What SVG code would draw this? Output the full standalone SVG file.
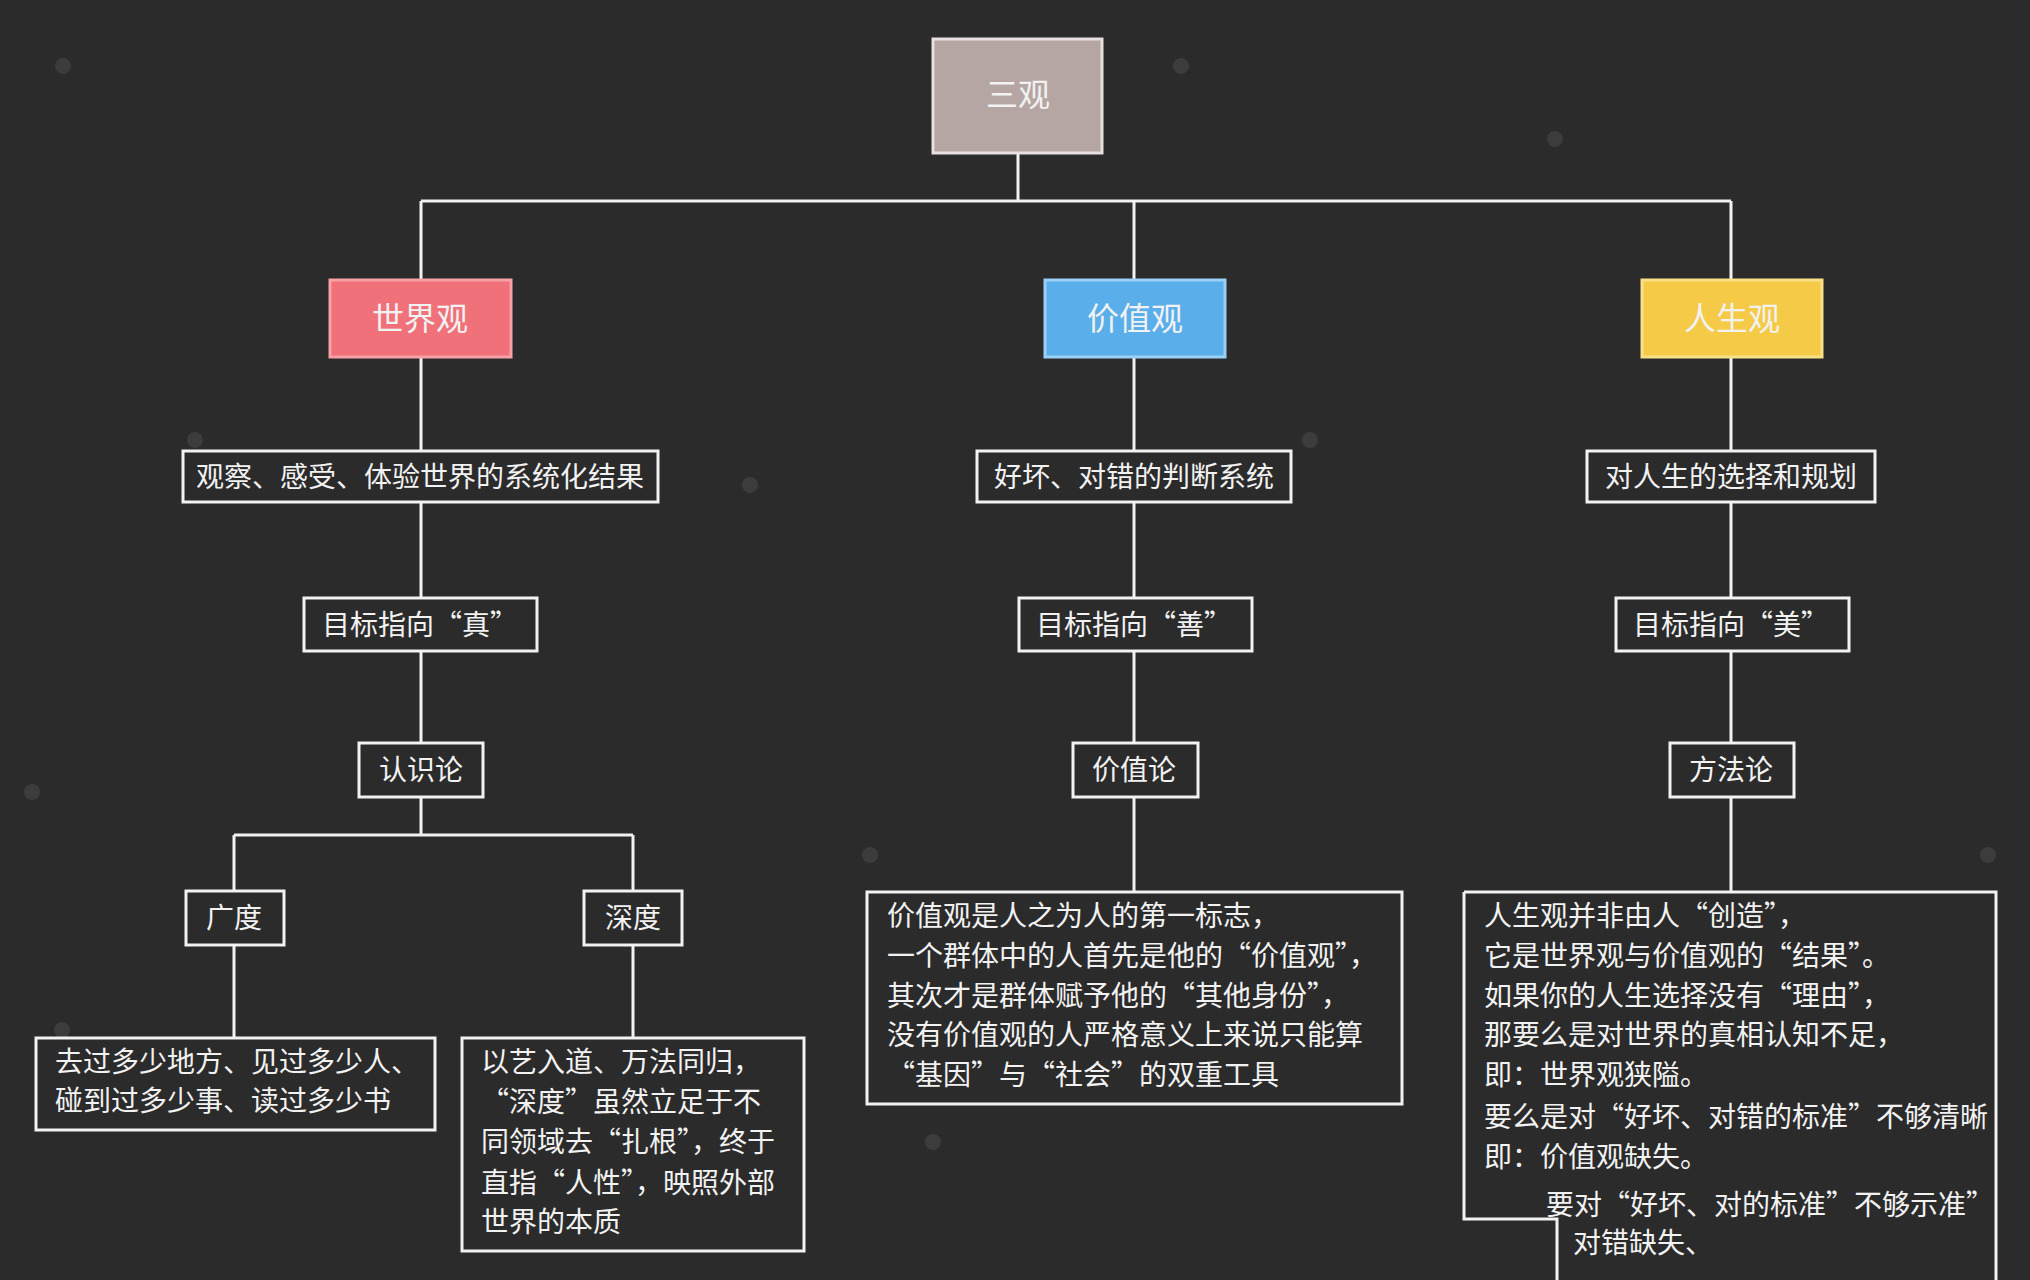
<svg xmlns="http://www.w3.org/2000/svg" width="2030" height="1280" viewBox="0 0 2030 1280">
<style>
.b{fill:none;stroke:#f2f2f2;stroke-width:3}
.c{fill:none;stroke:#f2f2f2;stroke-width:3}
text{font-family:"Noto Sans CJK SC","Noto Sans",sans-serif;font-size:28px;fill:#f2f2f2;dominant-baseline:central}
.m{text-anchor:middle}
.h{font-size:32px;text-anchor:middle}
</style>
<rect width="2030" height="1280" fill="#2b2b2b"/>
<g fill="#3c3c3c">
<circle cx="63" cy="66" r="8"/><circle cx="1181" cy="66" r="8"/><circle cx="1555" cy="139" r="8"/><circle cx="750" cy="485" r="8"/><circle cx="1310" cy="440" r="8"/><circle cx="32" cy="792" r="8"/><circle cx="870" cy="855" r="8"/><circle cx="1988" cy="855" r="8"/><circle cx="62" cy="1030" r="8"/><circle cx="933" cy="1142" r="8"/><circle cx="195" cy="440" r="8"/>
</g>
<g id="connectors" class="c">
<path d="M1018 153V201M421 201H1731M421 201V280M1134 201V280M1731 201V280"/>
<path d="M421 357V451M421 502V598M421 651V743M421 797V835M234 835H633M234 835V891M633 835V891M234 945V1038M633 945V1038"/>
<path d="M1134 357V451M1134 502V598M1134 651V743M1134 797V892"/>
<path d="M1731 357V451M1731 502V598M1731 651V743M1731 797V892"/>
</g>
<g id="root"><rect x="933" y="39" width="169" height="114" fill="#b5a6a3" stroke="#e8e0de" stroke-width="3"/><text x="1018" y="92" class="h">三观</text></g>
<g id="world"><rect x="330" y="280" width="181" height="77" fill="#f0717a" stroke="#f8a0a6" stroke-width="3"/><text x="420" y="316" class="h">世界观</text></g>
<g id="value"><rect x="1045" y="280" width="180" height="77" fill="#5aaeea" stroke="#9ad0f5" stroke-width="3"/><text x="1135" y="316" class="h">价值观</text></g>
<g id="life"><rect x="1642" y="280" width="180" height="77" fill="#f5ca47" stroke="#fbe08a" stroke-width="3"/><text x="1732" y="316" class="h">人生观</text></g>
<g id="w1"><rect class="b" x="183" y="451" width="475" height="51"/><text x="420" y="475" class="m">观察、感受、体验世界的系统化结果</text></g>
<g id="v1"><rect class="b" x="977" y="451" width="314" height="51"/><text x="1134" y="475" class="m">好坏、对错的判断系统</text></g>
<g id="l1"><rect class="b" x="1587" y="451" width="288" height="51"/><text x="1731" y="475" class="m">对人生的选择和规划</text></g>
<g id="w2"><rect class="b" x="304" y="598" width="233" height="53"/><text x="420" y="623" class="m">目标指向“真”</text></g>
<g id="v2"><rect class="b" x="1019" y="598" width="233" height="53"/><text x="1134" y="623" class="m">目标指向“善”</text></g>
<g id="l2"><rect class="b" x="1616" y="598" width="233" height="53"/><text x="1731" y="623" class="m">目标指向“美”</text></g>
<g id="w3"><rect class="b" x="359" y="743" width="124" height="54"/><text x="421" y="768" class="m">认识论</text></g>
<g id="v3"><rect class="b" x="1073" y="743" width="125" height="54"/><text x="1134" y="768" class="m">价值论</text></g>
<g id="l3"><rect class="b" x="1670" y="743" width="124" height="54"/><text x="1731" y="768" class="m">方法论</text></g>
<g id="breadth"><rect class="b" x="186" y="891" width="98" height="54"/><text x="234" y="916" class="m">广度</text></g>
<g id="depth"><rect class="b" x="584" y="891" width="98" height="54"/><text x="633" y="916" class="m">深度</text></g>
<g id="breadthText"><rect class="b" x="36" y="1038" width="399" height="92"/><text x="55" y="1060">去过多少地方、见过多少人、</text><text x="55" y="1099">碰到过多少事、读过多少书</text></g>
<g id="depthText"><rect class="b" x="462" y="1038" width="342" height="213"/><text x="481" y="1060">以艺入道、万法同归，</text><text x="481" y="1100">“深度”虽然立足于不</text><text x="481" y="1140">同领域去“扎根”，终于</text><text x="481" y="1181">直指“人性”，映照外部</text><text x="481" y="1220">世界的本质</text></g>
<g id="valueText"><rect class="b" x="867" y="892" width="535" height="212"/><text x="887" y="914">价值观是人之为人的第一标志，</text><text x="887" y="954">一个群体中的人首先是他的“价值观”，</text><text x="887" y="994">其次才是群体赋予他的“其他身份”，</text><text x="887" y="1033">没有价值观的人严格意义上来说只能算</text><text x="887" y="1073">“基因”与“社会”的双重工具</text></g>
<g id="lifeText"><path class="b" d="M1464 892H1996V1280M1557 1280V1219H1464V892"/><text x="1484" y="914">人生观并非由人“创造”，</text><text x="1484" y="954">它是世界观与价值观的“结果”。</text><text x="1484" y="994">如果你的人生选择没有“理由”，</text><text x="1484" y="1033">那要么是对世界的真相认知不足，</text><text x="1484" y="1073">即：世界观狭隘。</text><text x="1484" y="1115">要么是对“好坏、对错的标准”不够清晰</text><text x="1484" y="1155">即：价值观缺失。</text><text x="1546" y="1203">要对“好坏、对的标准”不够示准”</text><text x="1573" y="1241">对错缺失、</text></g>
</svg>
